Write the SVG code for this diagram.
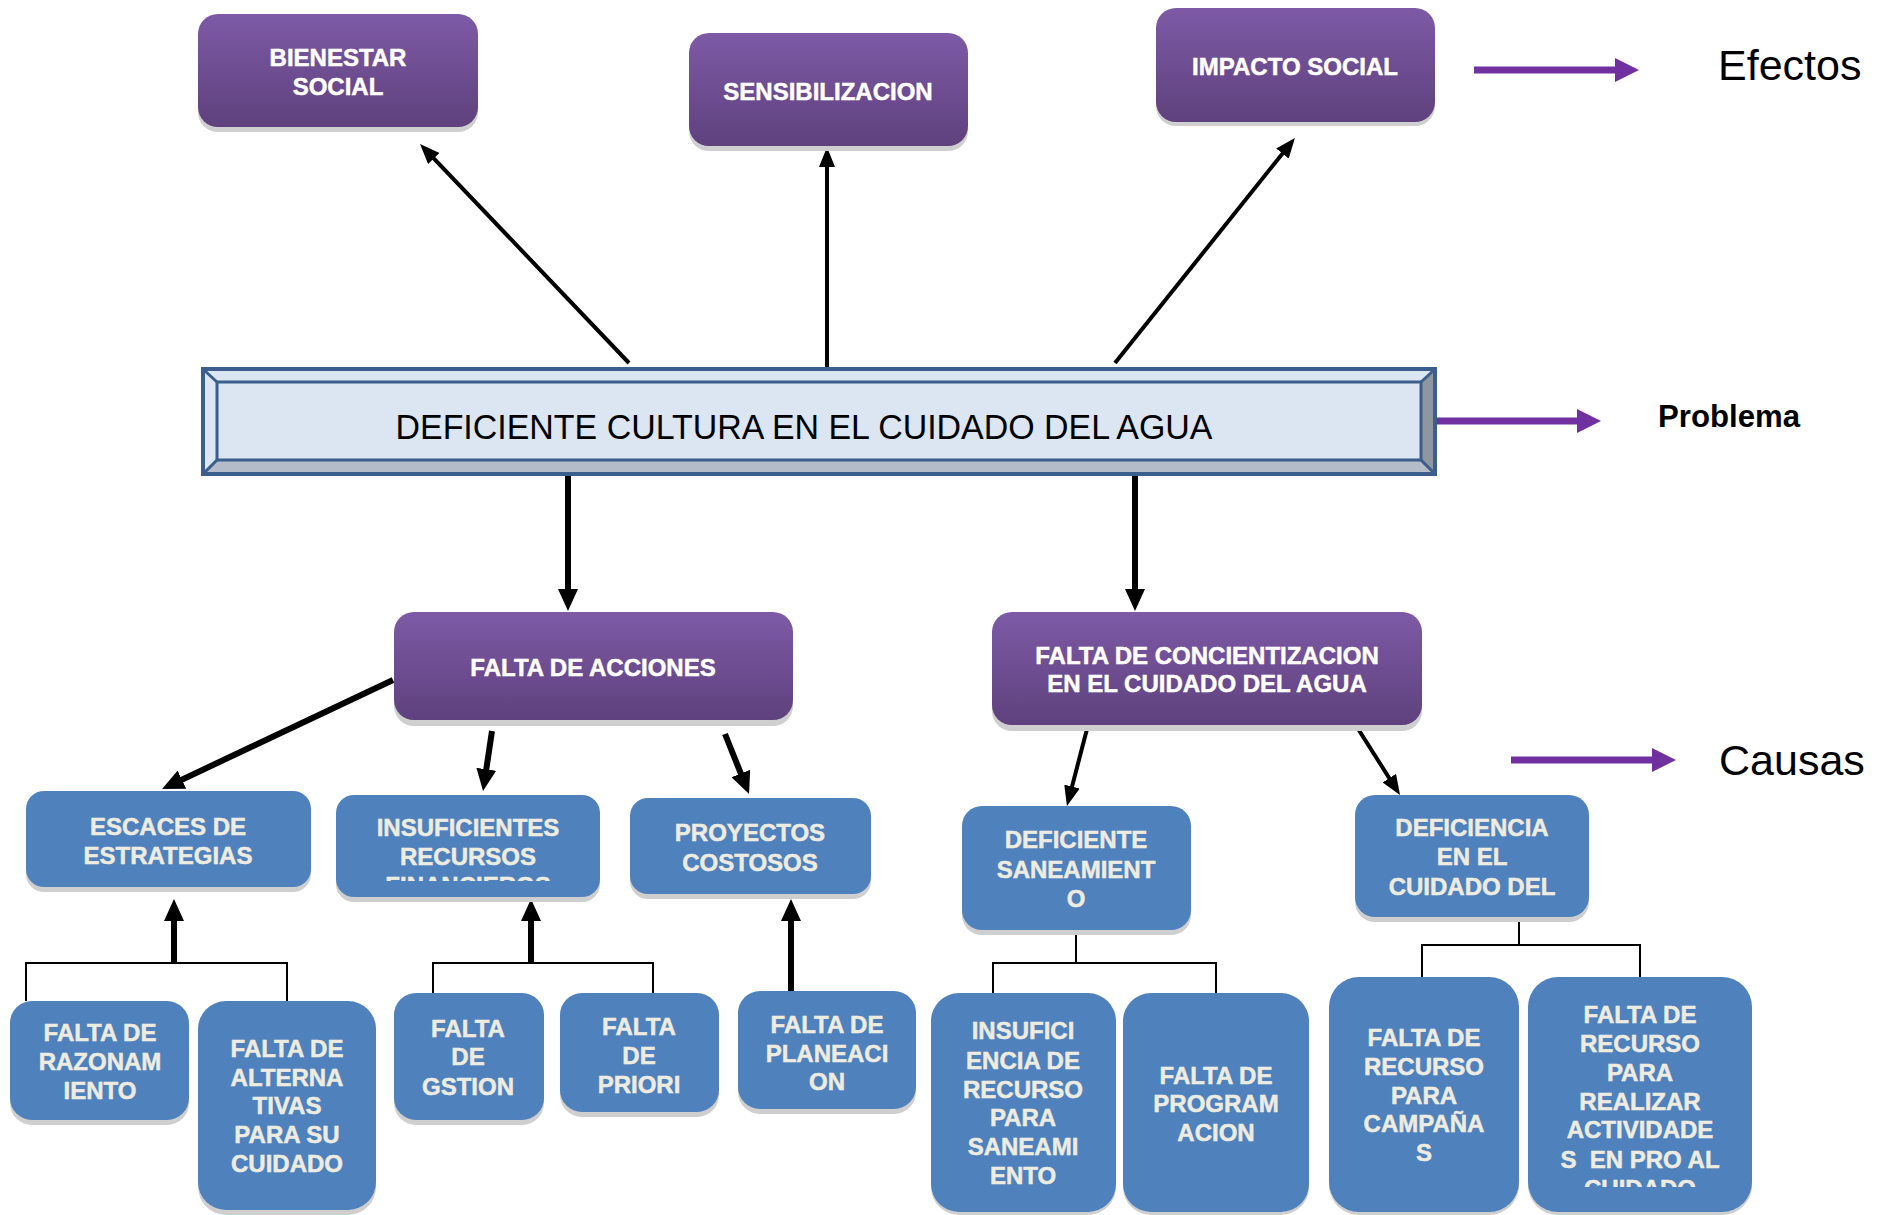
<svg xmlns="http://www.w3.org/2000/svg" width="1880" height="1215" viewBox="0 0 1880 1215">
<style>
.pt{fill:#FFFFFF;stroke:#FFFFFF;stroke-width:0.5;font-family:"Liberation Sans",Arial,sans-serif;font-weight:bold;font-size:24px;text-anchor:middle}
.bt{fill:#EEECE1;stroke:#EEECE1;stroke-width:0.5;font-family:"Liberation Sans",Arial,sans-serif;font-weight:bold;font-size:24px;text-anchor:middle}
.pbox{fill:url(#pg)}
.bbox{fill:#4F81BD}
.sh{fill:#CFCFCF}
.lbl{fill:#000000;font-family:"Liberation Sans",Arial,sans-serif}
.thin{stroke:#000;stroke-width:4;fill:none;marker-end:url(#ah1)}
.thick{stroke:#000;stroke-width:6;fill:none;marker-end:url(#ah2)}
.pur{stroke:#7030A0;stroke-width:7;fill:none;marker-end:url(#ah3)}
.br{stroke:#000;stroke-width:2;fill:none}
</style>
<defs>
<linearGradient id="pg" x1="0" y1="0" x2="0" y2="1">
<stop offset="0" stop-color="#7E5AA6"/>
<stop offset="1" stop-color="#5E417D"/>
</linearGradient>
<marker id="ah1" markerUnits="userSpaceOnUse" viewBox="0 0 20 16" markerWidth="20" markerHeight="16" refX="6" refY="8" orient="auto"><path d="M0,0 L20,8 L0,16 z" fill="#000"/></marker>
<marker id="ah2" markerUnits="userSpaceOnUse" viewBox="0 0 22 20" markerWidth="22" markerHeight="20" refX="6" refY="10" orient="auto"><path d="M0,0 L22,10 L0,20 z" fill="#000"/></marker>
<marker id="ah3" markerUnits="userSpaceOnUse" viewBox="0 0 24 24" markerWidth="24" markerHeight="24" refX="4" refY="12" orient="auto"><path d="M0,0 L24,12 L0,24 z" fill="#7030A0"/></marker>
<clipPath id="c1"><rect x="336" y="795" width="264" height="86"/></clipPath>
<clipPath id="c2"><rect x="1528" y="977" width="224" height="210"/></clipPath>
</defs>

<g id="connectors">
<line class="thin" x1="629" y1="363" x2="429.7" y2="154.1"/>
<line class="thin" x1="827" y1="367" x2="827" y2="161"/>
<line class="thin" x1="1115" y1="363" x2="1286.2" y2="148.9"/>
<line class="thick" x1="568" y1="475" x2="568" y2="595"/>
<line class="thick" x1="1135" y1="475" x2="1135" y2="595"/>
<line class="thick" x1="393" y1="680" x2="176.5" y2="782.2"/>
<line class="thick" x1="492" y1="731" x2="485.4" y2="775.2"/>
<line class="thick" x1="725" y1="734" x2="743.1" y2="779.1"/>
<line class="thin" x1="1087" y1="729" x2="1070.5" y2="792.4"/>
<line class="thin" x1="1355" y1="724" x2="1392.5" y2="783.2"/>
<line class="thick" x1="174" y1="963" x2="174" y2="915"/>
<line class="thick" x1="531" y1="963" x2="531" y2="915"/>
<line class="thick" x1="791" y1="991" x2="791" y2="915"/>
<path class="br" d="M26,1001 V963 H287 V1001"/>
<path class="br" d="M433,994 V963 H653 V994"/>
<path class="br" d="M1076,930 V963 M993,1001 V963 H1216 V994"/>
<path class="br" d="M1519,917 V945 M1422,977 V945 H1640 V977"/>
<line class="pur" x1="1474" y1="70" x2="1619" y2="70"/>
<line class="pur" x1="1436" y1="421" x2="1581" y2="421"/>
<line class="pur" x1="1511" y1="760" x2="1656" y2="760"/>
</g>

<g id="n-bienestar">
<rect class="sh" x="198" y="20" width="280" height="112" rx="20"/>
<rect class="pbox" x="198" y="14" width="280" height="113" rx="20"/>
<text class="pt" x="338" y="66">BIENESTAR</text>
<text class="pt" x="338" y="95">SOCIAL</text>
</g>
<g id="n-sensibilizacion">
<rect class="sh" x="689" y="39" width="279" height="112" rx="20"/>
<rect class="pbox" x="689" y="33" width="279" height="113" rx="20"/>
<text class="pt" x="828" y="100">SENSIBILIZACION</text>
</g>
<g id="n-impacto">
<rect class="sh" x="1156" y="14" width="279" height="112" rx="20"/>
<rect class="pbox" x="1156" y="8" width="279" height="114" rx="20"/>
<text class="pt" x="1295" y="75">IMPACTO SOCIAL</text>
</g>
<g id="l-efectos"><text class="lbl" x="1718" y="80" font-size="43">Efectos</text></g>
<g id="l-problema"><text class="lbl" x="1658" y="427" font-size="31" font-weight="bold" textLength="142" lengthAdjust="spacingAndGlyphs">Problema</text></g>
<g id="l-causas"><text class="lbl" x="1719" y="775" font-size="43">Causas</text></g>

<g id="n-problema">
<rect x="203" y="369" width="1232" height="105" fill="#DCE6F2" stroke="#3B5E8C" stroke-width="4"/>
<polygon points="205,371 1433,371 1421,382 217,382" fill="#DCE6F2"/>
<polygon points="205,472 1433,472 1421,460 217,460" fill="#B3BCC8"/>
<polygon points="1433,371 1433,472 1421,460 1421,382" fill="#8E969F"/>
<polygon points="205,371 205,472 217,460 217,382" fill="#DCE6F2"/>
<path d="M205,371 L217,382 M1433,371 L1421,382 M205,472 L217,460 M1433,472 L1421,460" stroke="#3B5E8C" stroke-width="3"/>
<rect x="217" y="382" width="1204" height="78" fill="#DCE6F2" stroke="#3B5E8C" stroke-width="3"/>
<text x="804" y="439" font-family="'Liberation Sans',Arial,sans-serif" font-size="35" fill="#000" text-anchor="middle" textLength="817" lengthAdjust="spacingAndGlyphs">DEFICIENTE CULTURA EN EL CUIDADO DEL AGUA</text>
</g>

<g id="n-acciones">
<rect class="sh" x="394" y="618" width="399" height="108" rx="20"/>
<rect class="pbox" x="394" y="612" width="399" height="108" rx="20"/>
<text class="pt" x="593" y="676">FALTA DE ACCIONES</text>
</g>
<g id="n-concientizacion">
<rect class="sh" x="992" y="618" width="430" height="113" rx="20"/>
<rect class="pbox" x="992" y="612" width="430" height="113" rx="20"/>
<text class="pt" x="1207" y="664">FALTA DE CONCIENTIZACION</text>
<text class="pt" x="1207" y="692">EN EL CUIDADO DEL AGUA</text>
</g>

<g id="n-escaces">
<rect class="sh" x="26" y="796" width="285" height="96" rx="18"/>
<rect class="bbox" x="26" y="791" width="285" height="96" rx="18"/>
<text class="bt" x="168" y="835">ESCACES DE</text>
<text class="bt" x="168" y="864">ESTRATEGIAS</text>
</g>
<g id="n-insuficientes">
<rect class="sh" x="336" y="800" width="264" height="102" rx="18"/>
<rect class="bbox" x="336" y="795" width="264" height="102" rx="18"/>
<g clip-path="url(#c1)">
<text class="bt" x="468" y="836">INSUFICIENTES</text>
<text class="bt" x="468" y="865">RECURSOS</text>
<text class="bt" x="468" y="894">FINANCIEROS</text>
</g>
</g>
<g id="n-proyectos">
<rect class="sh" x="630" y="803" width="241" height="96" rx="18"/>
<rect class="bbox" x="630" y="798" width="241" height="96" rx="18"/>
<text class="bt" x="750" y="841">PROYECTOS</text>
<text class="bt" x="750" y="871">COSTOSOS</text>
</g>
<g id="n-saneamiento">
<rect class="sh" x="962" y="811" width="229" height="124" rx="20"/>
<rect class="bbox" x="962" y="806" width="229" height="124" rx="20"/>
<text class="bt" x="1076" y="848">DEFICIENTE</text>
<text class="bt" x="1076" y="878">SANEAMIENT</text>
<text class="bt" x="1076" y="907">O</text>
</g>
<g id="n-deficiencia">
<rect class="sh" x="1355" y="800" width="234" height="122" rx="20"/>
<rect class="bbox" x="1355" y="795" width="234" height="122" rx="20"/>
<text class="bt" x="1472" y="836">DEFICIENCIA</text>
<text class="bt" x="1472" y="865">EN EL</text>
<text class="bt" x="1472" y="895">CUIDADO DEL</text>
</g>

<g id="n-razonamiento">
<rect class="sh" x="10" y="1006" width="179" height="119" rx="22"/>
<rect class="bbox" x="10" y="1001" width="179" height="119" rx="22"/>
<text class="bt" x="100" y="1041">FALTA DE</text>
<text class="bt" x="100" y="1070">RAZONAM</text>
<text class="bt" x="100" y="1099">IENTO</text>
</g>
<g id="n-alternativas">
<rect class="sh" x="198" y="1006" width="178" height="209" rx="28"/>
<rect class="bbox" x="198" y="1001" width="178" height="209" rx="28"/>
<text class="bt" x="287" y="1057">FALTA DE</text>
<text class="bt" x="287" y="1086">ALTERNA</text>
<text class="bt" x="287" y="1114">TIVAS</text>
<text class="bt" x="287" y="1143">PARA SU</text>
<text class="bt" x="287" y="1172">CUIDADO</text>
</g>
<g id="n-gestion">
<rect class="sh" x="394" y="998" width="150" height="127" rx="22"/>
<rect class="bbox" x="394" y="993" width="150" height="127" rx="22"/>
<text class="bt" x="468" y="1037">FALTA</text>
<text class="bt" x="468" y="1065">DE</text>
<text class="bt" x="468" y="1095">GSTION</text>
</g>
<g id="n-priori">
<rect class="sh" x="560" y="998" width="159" height="119" rx="22"/>
<rect class="bbox" x="560" y="993" width="159" height="119" rx="22"/>
<text class="bt" x="639" y="1035">FALTA</text>
<text class="bt" x="639" y="1064">DE</text>
<text class="bt" x="639" y="1093">PRIORI</text>
</g>
<g id="n-planeacion">
<rect class="sh" x="738" y="996" width="178" height="118" rx="22"/>
<rect class="bbox" x="738" y="991" width="178" height="118" rx="22"/>
<text class="bt" x="827" y="1033">FALTA DE</text>
<text class="bt" x="827" y="1062">PLANEACI</text>
<text class="bt" x="827" y="1090">ON</text>
</g>
<g id="n-insuficiencia">
<rect class="sh" x="931" y="998" width="185" height="217" rx="28"/>
<rect class="bbox" x="931" y="993" width="185" height="219" rx="28"/>
<text class="bt" x="1023" y="1039">INSUFICI</text>
<text class="bt" x="1023" y="1069">ENCIA DE</text>
<text class="bt" x="1023" y="1098">RECURSO</text>
<text class="bt" x="1023" y="1126">PARA</text>
<text class="bt" x="1023" y="1155">SANEAMI</text>
<text class="bt" x="1023" y="1184">ENTO</text>
</g>
<g id="n-programacion">
<rect class="sh" x="1123" y="998" width="186" height="217" rx="28"/>
<rect class="bbox" x="1123" y="993" width="186" height="219" rx="28"/>
<text class="bt" x="1216" y="1084">FALTA DE</text>
<text class="bt" x="1216" y="1112">PROGRAM</text>
<text class="bt" x="1216" y="1141">ACION</text>
</g>
<g id="n-campanas">
<rect class="sh" x="1329" y="982" width="190" height="233" rx="30"/>
<rect class="bbox" x="1329" y="977" width="190" height="235" rx="30"/>
<text class="bt" x="1424" y="1046">FALTA DE</text>
<text class="bt" x="1424" y="1075">RECURSO</text>
<text class="bt" x="1424" y="1104">PARA</text>
<text class="bt" x="1424" y="1132">CAMPAÑA</text>
<text class="bt" x="1424" y="1161">S</text>
</g>
<g id="n-actividades">
<rect class="sh" x="1528" y="982" width="224" height="233" rx="30"/>
<rect class="bbox" x="1528" y="977" width="224" height="235" rx="30"/>
<g clip-path="url(#c2)">
<text class="bt" x="1640" y="1023">FALTA DE</text>
<text class="bt" x="1640" y="1052">RECURSO</text>
<text class="bt" x="1640" y="1081">PARA</text>
<text class="bt" x="1640" y="1110">REALIZAR</text>
<text class="bt" x="1640" y="1138">ACTIVIDADE</text>
<text class="bt" x="1640" y="1168" xml:space="preserve">S  EN PRO AL</text>
<text class="bt" x="1640" y="1197">CUIDADO</text>
</g>
</g>
</svg>
